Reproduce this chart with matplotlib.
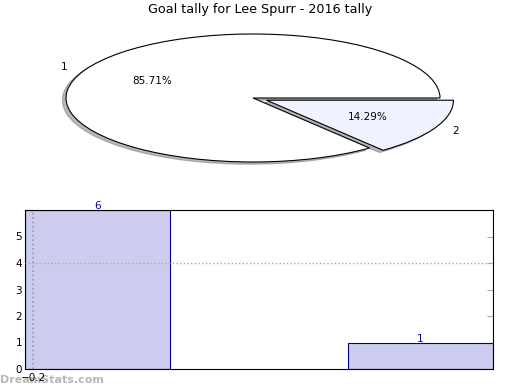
import matplotlib
matplotlib.use("Agg")
import matplotlib.pyplot as plt

title = "Goal tally for Lee Spurr - 2016 tally"
pie_labels = ["1", "2"]
pie_values = [6, 1]
pie_colors = ["#ffffff", "#eef3ff"]
pie_explode = [0, 0.08]

bar_x = [0, 1]
bar_values = [6, 1]
bar_width = 0.45

fig = plt.figure(figsize=(5.2, 3.9), dpi=100)
plt.rcParams['font.family'] = ['DejaVu Sans']

# Pie axes (non-equal aspect, squashed)
axp = fig.add_axes([19.25 / 520, 212 / 390, 467.5 / 520, 160 / 390])
wedges, texts, autotexts = axp.pie(
    pie_values, labels=pie_labels, colors=pie_colors, explode=pie_explode,
    autopct="%.2f%%", shadow={"ox": -0.014, "oy": -0.025, "shade": 0.55},
    startangle=0,
    wedgeprops=dict(edgecolor="black", linewidth=0.8),
    textprops=dict(fontsize=7.5))
axp.set_aspect("auto")
axp.set_xlim(-1.25, 1.25)
axp.set_ylim(-1.25, 1.25)
axp.axis("off")
fig.text(0.5, 1 - 10 / 390, title, ha="center", va="center", fontsize=9.2)

# Bar axes
axb = fig.add_axes([25 / 520, 21 / 390, 468 / 520, 159 / 390])
bars = axb.bar(bar_x, bar_values, width=bar_width, color="#ccccee",
               edgecolor="#000088", linewidth=0.8, zorder=2)
for x, v in zip(bar_x, bar_values):
    axb.text(x, v - 0.05, str(v), ha="center", va="bottom", color="#000088",
             fontsize=7.5, zorder=4)
axb.set_xlim(bar_x[0] - bar_width / 2, bar_x[-1] + bar_width / 2)
axb.set_ylim(0, 6)
axb.set_yticks([0, 1, 2, 3, 4, 5])
axb.set_xticks([-0.2])
axb.set_xticklabels(["\u22120.2"])
axb.axhline(4, color="#aaaaaa", linestyle=":", linewidth=1, zorder=3)
axb.axvline(-0.2, color="#999999", linestyle=":", linewidth=1.2, zorder=3)
axb.tick_params(axis="both", direction="in", length=4, color="#aaaaaa",
                labelsize=7.5, right=True, top=False, pad=2)
axb.tick_params(axis="x", length=0, pad=3)
axb.set_zorder(2)
axb.patch.set_alpha(0)
for s in axb.spines.values():
    s.set_linewidth(0.8)

fig.text(0.0, 10 / 390, "DreamStats.com", ha="left", va="center",
         fontsize=8, color="#b8b8b8", fontweight="bold", zorder=1)

fig.savefig("out.png", dpi=100)
